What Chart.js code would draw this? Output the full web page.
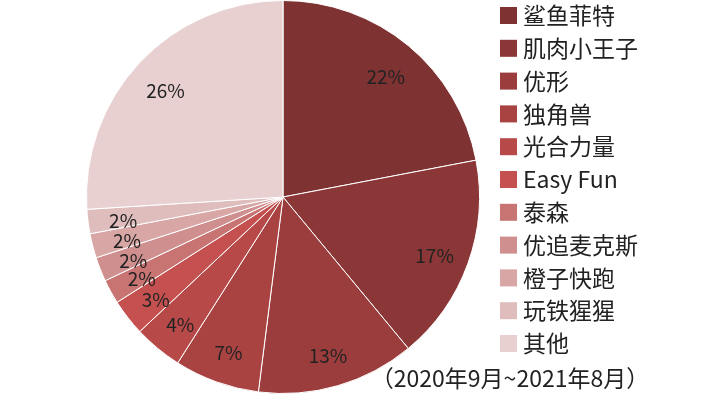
<!DOCTYPE html>
<html>
<head>
<meta charset="utf-8">
<script src="https://cdn.jsdelivr.net/npm/chart.js@4"></script>
<style>
  html, body { margin: 0; padding: 0; background: #fff; }
  #wrap { width: 714px; height: 398px; position: relative; }
</style>
</head>
<body>
<div id="wrap"><canvas id="pieChart" width="714" height="398"></canvas></div>
<script>
// 数据
const brands = ['鲨鱼菲特', '肌肉小王子', '优形', '独角兽', '光合力量', 'Easy Fun', '泰森', '优追麦克斯', '橙子快跑', '玩铁猩猩', '其他'];
const shares = [22, 17, 13, 7, 4, 3, 2, 2, 2, 2, 26];
const colors = ['#7f3232', '#8c3737', '#9b3d3c', '#a94342', '#b74a49', '#c45150', '#c87473', '#d08f8f', '#d9a6a6', '#e0bdbd', '#e8d0d1'];
const period = '（2020年9月~2021年8月）';

const FONT = '"Noto Sans CJK SC", "Noto Sans", sans-serif';

// 扇区内百分比
const pctLabels = {
  id: 'pctLabels',
  afterDatasetsDraw(chart) {
    const ctx = chart.ctx;
    const meta = chart.getDatasetMeta(0);
    ctx.save();
    ctx.font = '19px ' + FONT;
    ctx.fillStyle = '#222';
    ctx.textAlign = 'center';
    ctx.textBaseline = 'middle';
    meta.data.forEach((arc, i) => {
      const p = arc.getProps(['x', 'y', 'startAngle', 'endAngle', 'outerRadius']);
      const mid = (p.startAngle + p.endAngle) / 2;
      const r = p.outerRadius * 0.82;
      ctx.fillText(shares[i] + '%', p.x + Math.cos(mid) * r, p.y + Math.sin(mid) * r + 4);
    });
    ctx.restore();
  }
};

// 右侧图例 + 时间注释
const sideLegend = {
  id: 'sideLegend',
  afterDraw(chart) {
    const ctx = chart.ctx;
    ctx.save();
    ctx.font = '23px ' + FONT;
    ctx.textBaseline = 'middle';
    brands.forEach((name, i) => {
      const y = 15.5 + i * 32.8;
      ctx.fillStyle = colors[i];
      ctx.fillRect(500, y - 8.5, 17, 17);
      ctx.fillStyle = '#222';
      ctx.textAlign = 'left';
      ctx.fillText(name, 523, y);
    });
    ctx.textAlign = 'center';
    ctx.fillText(period, 510, 378);
    ctx.restore();
  }
};

new Chart(document.getElementById('pieChart').getContext('2d'), {
  type: 'pie',
  data: {
    labels: brands,
    datasets: [{
      data: shares,
      backgroundColor: colors,
      borderColor: '#fff',
      borderWidth: 1
    }]
  },
  options: {
    responsive: false,
    animation: false,
    layout: { padding: { left: 86, right: 234, top: 0, bottom: 4 } },
    plugins: {
      legend: { display: false },
      tooltip: { enabled: false }
    }
  },
  plugins: [pctLabels, sideLegend]
});
</script>
</body>
</html>
